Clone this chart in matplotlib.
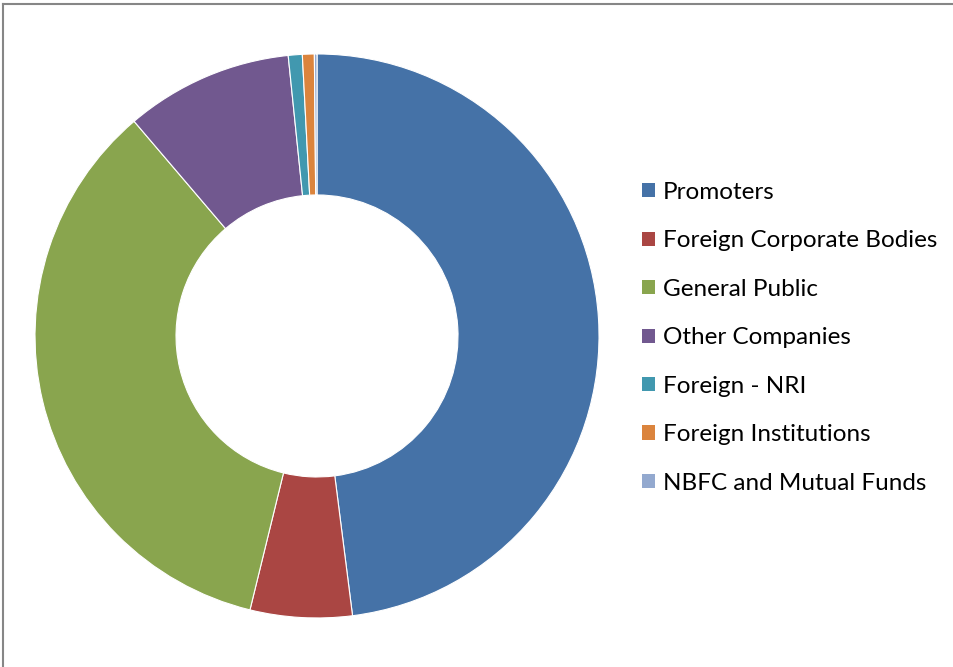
import matplotlib.pyplot as plt
from matplotlib.lines import Line2D

# Shareholding pattern (percent)
categories = ["Promoters", "Foreign Corporate Bodies", "General Public",
              "Other Companies", "Foreign - NRI", "Foreign Institutions",
              "NBFC and Mutual Funds"]
shares = [47.98, 5.83, 34.94, 9.60, 0.80, 0.68, 0.15]
colors = ["#4572A7", "#AA4643", "#89A54E", "#71588F",
          "#4198AF", "#DB843D", "#93A9CF"]

fig = plt.figure(figsize=(9.54, 6.67), dpi=100)
ax = fig.add_axes([0.0367, 0.0735, 0.5912, 0.8456])

wedges, _ = ax.pie(shares, colors=colors, startangle=90, counterclock=False,
                   radius=1.0,
                   wedgeprops=dict(width=0.5, edgecolor="white", linewidth=0.8))
ax.set_xlim(-1, 1)
ax.set_ylim(-1, 1)
ax.set_aspect("equal")
ax.axis("off")

leg = ax.legend(wedges, categories, loc="center left",
                bbox_to_anchor=(0.673, 0.4935), bbox_transform=fig.transFigure,
                frameon=False, prop={"family": "Lato", "size": 17.5},
                handlelength=0.53, handleheight=0.53, handletextpad=0.33,
                labelspacing=1.13, borderpad=0, borderaxespad=0)
for h in leg.legend_handles:
    h.set_edgecolor("none")

# chart area border (only top and left edges are visible in the original)
fig.add_artist(Line2D([3.5 / 954, 3.5 / 954], [0, 1 - 3.5 / 667],
                      transform=fig.transFigure, color="#868686", lw=1.5))
fig.add_artist(Line2D([3.5 / 954, 1], [1 - 3.5 / 667, 1 - 3.5 / 667],
                      transform=fig.transFigure, color="#868686", lw=1.5))

fig.savefig("out.png", dpi=100)
